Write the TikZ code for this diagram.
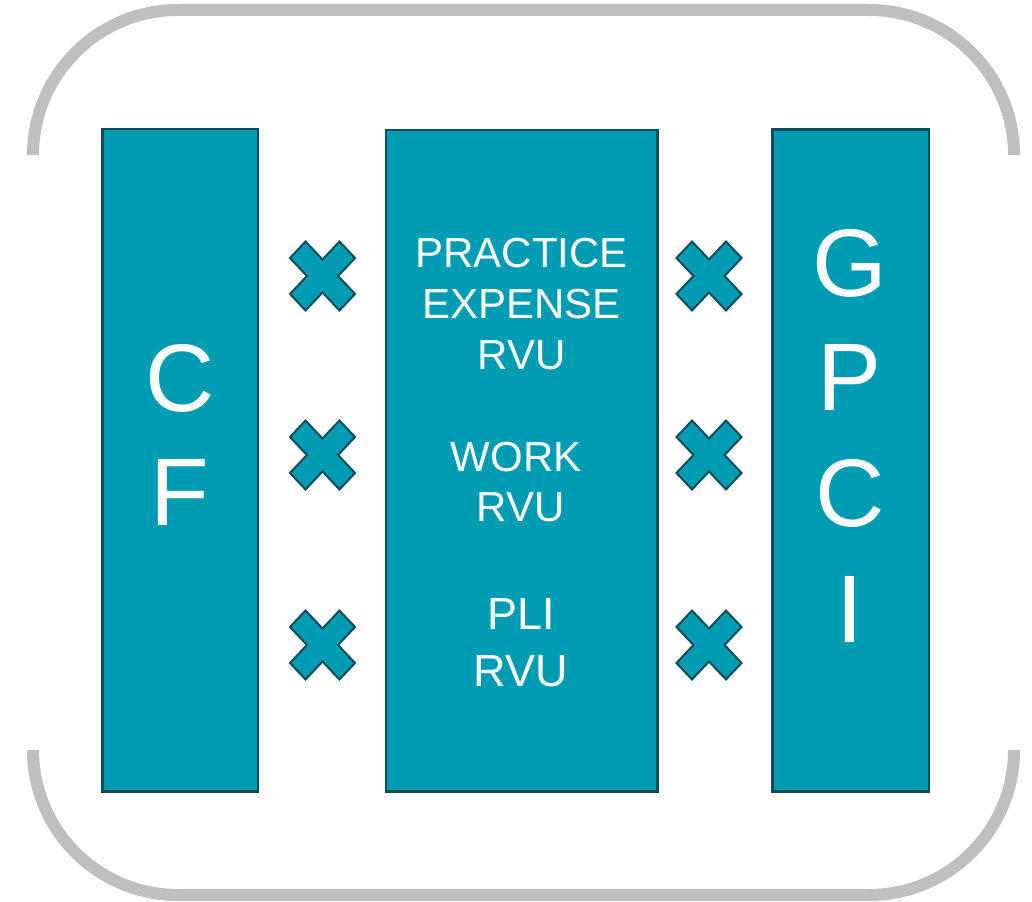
\documentclass[tikz,border=0pt]{standalone}
\usepackage{fontspec}
\setmainfont{Liberation Sans}
\definecolor{tealfill}{HTML}{009CB4}
\definecolor{tealedge}{HTML}{0D4D5A}
\definecolor{framegray}{HTML}{BFBFBF}
\tikzset{
  bar/.style={draw=tealedge, fill=tealfill, line width=2.5pt, inner sep=0pt},
  framestroke/.style={draw=framegray, line width=12pt},
  bigtxt/.style={text=white, font=\fontsize{96}{115}\selectfont, anchor=base, inner sep=0pt},
  midtxt/.style={text=white, font=\fontsize{42}{50}\selectfont, anchor=base, inner sep=0pt},
  midtxtl/.style={text=white, font=\fontsize{45}{54}\selectfont, anchor=base, inner sep=0pt},
  pics/mulx/.style={code={
    \draw[draw=tealedge, fill=tealfill, line width=2pt, yscale=1.06, rotate=45]
      (11,35) -- (11,11) -- (35,11) -- (35,-11) -- (11,-11) -- (11,-35)
      -- (-11,-35) -- (-11,-11) -- (-35,-11) -- (-35,11) -- (-11,11) -- (-11,35) -- cycle;
  }}
}
\begin{document}
\begin{tikzpicture}[x=1pt, y=-1pt]
  \useasboundingbox (0,0) rectangle (1032,901);
  % outer frame brackets
  \draw[framestroke] (33,155) arc[start angle=180, end angle=270, radius=145]
    -- (869,10) arc[start angle=270, end angle=360, radius=145];
  \draw[framestroke] (33,750) arc[start angle=180, end angle=90, radius=145]
    -- (869,895) arc[start angle=90, end angle=0, radius=145];
  % columns
  \node[bar, minimum width=155.5pt, minimum height=662.5pt] (cf) at (180.25,460.25) {};
  \node[bar, minimum width=271.5pt, minimum height=661.5pt] (rvu) at (521.75,460.75) {};
  \node[bar, minimum width=156.5pt, minimum height=662pt] (gpci) at (850.75,460.5) {};
  % CF letters
  \node[bigtxt] (cfc) at (180,411) {C};
  \node[bigtxt] (cff) at (180,525) {F};
  % GPCI letters
  \node[bigtxt] (gg) at (850,296) {G};
  \node[bigtxt] (gp) at (850,410) {P};
  \node[bigtxt] (gc) at (850,526) {C};
  \node[bigtxt] (gi) at (850,642) {I};
  % middle texts
  \node[midtxt] (pe1) at (521.5,267) {PRACTICE};
  \node[midtxt] (pe2) at (521.5,318) {EXPENSE};
  \node[midtxt] (pe3) at (521.5,369) {RVU};
  \node[midtxt] (wk1) at (516,471) {WORK};
  \node[midtxt] (wk2) at (520.5,521) {RVU};
  \node[midtxtl] (pl1) at (521,629) {PLI};
  \node[midtxtl] (pl2) at (520.5,686) {RVU};
  % multiplication signs
  \pic at (322.5,276) {mulx};
  \pic at (322.5,455) {mulx};
  \pic at (322.5,645) {mulx};
  \pic at (709,276) {mulx};
  \pic at (709,455) {mulx};
  \pic at (709,645) {mulx};
\end{tikzpicture}
\end{document}
